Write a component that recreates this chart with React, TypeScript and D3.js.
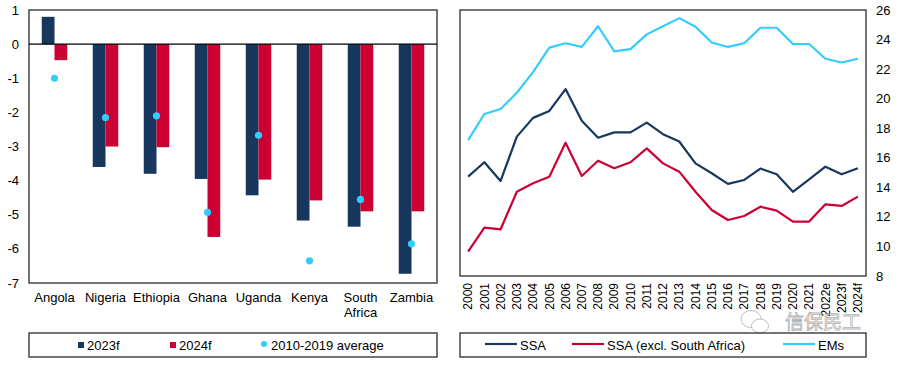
import * as d3 from "d3";

const countries = ["Angola", "Nigeria", "Ethiopia", "Ghana", "Uganda", "Kenya", "South Africa", "Zambia"];
const f2023 = [0.8, -3.6, -3.8, -3.95, -4.43, -5.17, -5.35, -6.73];
const f2024 = [-0.47, -3.0, -3.02, -5.65, -3.97, -4.58, -4.9, -4.9];
const avg1019 = [-1.0, -2.15, -2.1, -4.93, -2.67, -6.35, -4.55, -5.85];
const leftTicks = [1, 0, -1, -2, -3, -4, -5, -6, -7];

const years = ["2000", "2001", "2002", "2003", "2004", "2005", "2006", "2007", "2008", "2009", "2010", "2011", "2012", "2013", "2014", "2015", "2016", "2017", "2018", "2019", "2020", "2021", "2022e", "2023f", "2024f"];
const ssa = [14.72, 15.7, 14.43, 17.43, 18.7, 19.17, 20.65, 18.5, 17.36, 17.72, 17.72, 18.38, 17.6, 17.1, 15.62, 14.95, 14.23, 14.5, 15.27, 14.88, 13.7, 14.54, 15.4, 14.88, 15.29];
const ssaExSA = [9.65, 11.27, 11.16, 13.7, 14.27, 14.72, 17.02, 14.77, 15.8, 15.29, 15.7, 16.64, 15.62, 15.06, 13.7, 12.47, 11.79, 12.06, 12.69, 12.42, 11.68, 11.68, 12.85, 12.74, 13.37];
const ems = [17.2, 18.96, 19.3, 20.4, 21.8, 23.45, 23.75, 23.5, 24.9, 23.2, 23.35, 24.35, 24.9, 25.45, 24.87, 23.8, 23.5, 23.75, 24.8, 24.8, 23.7, 23.7, 22.7, 22.45, 22.7];
const rightTicks = [8, 10, 12, 14, 16, 18, 20, 22, 24, 26];

const NAVY = "#17375E";
const RED = "#CC0033";
const LIGHT = "#33CCFF";
const FRAME = "#3a3a3a";
const FONT = "Liberation Sans, Arial, sans-serif";

export default function App() {
  // left chart
  const x = d3.scaleBand<string>().domain(countries).range([29, 437]).paddingInner(0.5).paddingOuter(0.25);
  const xs = d3.scaleBand<string>().domain(["2023f", "2024f"]).range([0, x.bandwidth()]);
  const y = d3.scaleLinear().domain([-7, 1]).range([283, 10]);

  // right chart
  const xr = d3.scaleBand<string>().domain(years).range([460, 866]);
  const yr = d3.scaleLinear().domain([8, 26]).range([276, 10]);
  const line = d3.line<number>()
    .x((_, i) => xr(years[i])! + xr.bandwidth() / 2)
    .y(d => yr(d));

  const series = [
    { name: "SSA", values: ssa, color: NAVY },
    { name: "SSA (excl. South Africa)", values: ssaExSA, color: RED },
    { name: "EMs", values: ems, color: LIGHT },
  ];

  const bar = (v: number) => ({ y: Math.min(y(v), y(0)), h: Math.abs(y(v) - y(0)) });

  return (
    <svg width={900} height={366} style={{ position: "absolute", left: 0, top: 0, background: "#fff" }} fontFamily={FONT}>
      {/* left panel */}
      <rect x={29} y={10} width={408} height={273} fill="none" stroke={FRAME} strokeWidth={1.4} />
      {countries.map((c, i) => {
        const b1 = bar(f2023[i]);
        const b2 = bar(f2024[i]);
        return (
          <g key={c}>
            <rect x={x(c)! + xs("2023f")!} y={b1.y} width={xs.bandwidth()} height={b1.h} fill={NAVY} />
            <rect x={x(c)! + xs("2024f")!} y={b2.y} width={xs.bandwidth()} height={b2.h} fill={RED} />
          </g>
        );
      })}
      <line x1={29} x2={437} y1={y(0)} y2={y(0)} stroke="#000" strokeWidth={1.2} />
      {countries.map((c, i) => (
        <circle key={c} cx={x(c)! + x.bandwidth() / 2} cy={y(avg1019[i])} r={3.6} fill={LIGHT} />
      ))}
      {leftTicks.map(t => (
        <text key={t} x={19} y={y(t)} dy="0.35em" textAnchor="end" fontSize={13} fill="#000">{t}</text>
      ))}
      {countries.map(c => {
        const cx = x(c)! + x.bandwidth() / 2;
        const parts = c === "South Africa" ? ["South", "Africa"] : [c];
        return (
          <text key={c} x={cx} y={302} textAnchor="middle" fontSize={13} fill="#000">
            {parts.map((p, k) => (
              <tspan key={p} x={cx} dy={k === 0 ? 0 : 15}>{p}</tspan>
            ))}
          </text>
        );
      })}
      {/* left legend */}
      <rect x={29} y={333} width={408} height={24} fill="none" stroke={FRAME} strokeWidth={1.4} />
      <rect x={78} y={342} width={6} height={6} fill={NAVY} />
      <text x={87} y={349.5} fontSize={13}>2023f</text>
      <rect x={170} y={342} width={6} height={6} fill={RED} />
      <text x={179} y={349.5} fontSize={13}>2024f</text>
      <circle cx={264} cy={344} r={3} fill={LIGHT} />
      <text x={271} y={349.5} fontSize={13}>2010-2019 average</text>

      {/* right panel */}
      <rect x={460} y={10} width={406} height={266} fill="none" stroke={FRAME} strokeWidth={1.4} />
      {series.map(s => (
        <path key={s.name} d={line(s.values)!} fill="none" stroke={s.color} strokeWidth={2.2} strokeLinejoin="round" />
      ))}
      {rightTicks.map(t => (
        <text key={t} x={876} y={yr(t)} dy="0.35em" fontSize={13} fill="#000">{t}</text>
      ))}
      {years.map(yy => {
        const cx = xr(yy)! + xr.bandwidth() / 2;
        return (
          <text key={yy} transform={`translate(${cx},283) rotate(-90)`} dy="0.35em" textAnchor="end" fontSize={12} fill="#000">{yy}</text>
        );
      })}
      {/* watermark */}
      <g opacity={0.75}>
        <ellipse cx={751} cy={319} rx={10} ry={8.5} fill="#fff" stroke="#aaa" strokeWidth={1} />
        <ellipse cx={760} cy={326} rx={8.5} ry={7} fill="#fff" stroke="#aaa" strokeWidth={1} />
        <text x={785} y={329} fontSize={19} fontFamily="Noto Sans CJK SC" fill="#fff" stroke="#999" strokeWidth={0.8}>信保民工</text>
      </g>
      {/* right legend */}
      <rect x={460} y={333} width={406} height={24} fill="none" stroke={FRAME} strokeWidth={1.4} />
      {series.map((s, i) => {
        const lx = [485, 572, 783][i];
        return (
          <g key={s.name}>
            <line x1={lx} x2={lx + 32} y1={344} y2={344} stroke={s.color} strokeWidth={2.2} />
            <text x={lx + 35} y={349.5} fontSize={13}>{s.name}</text>
          </g>
        );
      })}
    </svg>
  );
}
